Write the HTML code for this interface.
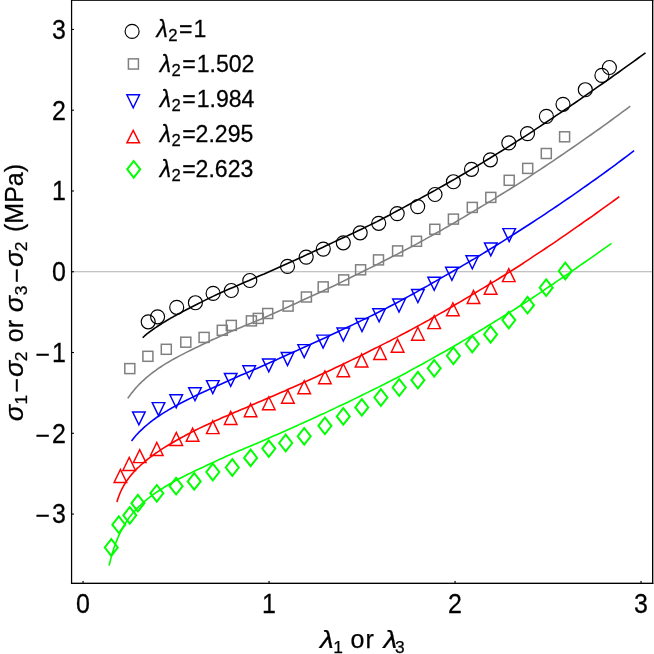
<!DOCTYPE html>
<html>
<head>
<meta charset="utf-8">
<title>Stress vs stretch</title>
<style>
html,body{margin:0;padding:0;background:#fff;}
body{width:654px;height:654px;overflow:hidden;font-family:"Liberation Sans",sans-serif;}
svg{display:block;will-change:transform;}
text{font-family:"Liberation Sans",sans-serif;fill:#000;stroke:#000;stroke-width:0.25px;}
.it{font-style:italic;}
.tk{font-size:25.0px;}
.lg{font-size:23.1px;}
.lg .sub{font-size:16.7px;}
.ax{font-size:25.0px;}
.ax .sub{font-size:17.4px;}
</style>
</head>
<body>
<svg width="654" height="654" viewBox="0 0 654 654">
<rect x="0" y="0" width="654" height="654" fill="#fff"/>
<rect x="72" y="271.2" width="580.5" height="1.05" fill="#b4b4b4"/>
<g fill="none" stroke-width="1.6" stroke-linejoin="round">
<path d="M142.7 337.8 L143.2 337.3 L144.0 336.5 L144.8 335.7 L145.6 335.1 L146.4 334.3 L147.2 333.7 L148.0 333.1 L148.8 332.5 L149.6 331.9 L150.4 331.3 L151.2 330.7 L152.0 330.2 L152.8 329.5 L153.6 329.0 L154.4 328.4 L155.2 327.9 L156.0 327.4 L156.8 326.8 L157.6 326.3 L158.4 325.8 L159.2 325.2 L160.0 324.7 L160.8 324.2 L161.6 323.7 L162.4 323.1 L163.2 322.7 L164.0 322.1 L164.8 321.7 L165.6 321.2 L166.4 320.8 L167.2 320.2 L168.0 319.8 L168.8 319.3 L169.6 318.9 L170.4 318.3 L171.2 317.9 L172.0 317.5 L172.8 317.1 L173.6 316.5 L174.4 316.1 L175.2 315.7 L176.0 315.3 L176.8 314.9 L177.6 314.3 L178.4 313.9 L179.2 313.5 L180.0 313.1 L180.8 312.7 L181.6 312.2 L182.4 311.8 L186.3 309.8 L190.2 307.7 L194.1 305.7 L198.0 303.8 L201.9 301.9 L205.7 299.9 L209.6 298.0 L213.5 296.1 L217.4 294.3 L221.3 292.6 L225.2 290.8 L229.1 289.1 L233.0 287.4 L236.9 285.7 L240.8 284.1 L244.7 282.3 L248.6 280.7 L252.4 279.0 L256.3 277.3 L260.2 275.6 L264.1 274.0 L268.0 272.2 L271.9 270.5 L275.8 268.8 L279.7 267.0 L283.6 265.3 L287.5 263.5 L291.4 261.7 L295.3 260.0 L299.1 258.2 L303.0 256.5 L306.9 254.6 L310.8 252.9 L314.7 251.0 L318.6 249.2 L322.5 247.4 L326.4 245.6 L330.3 243.8 L334.2 241.9 L338.1 240.1 L342.0 238.3 L345.8 236.6 L349.7 234.7 L353.6 232.9 L357.5 231.1 L361.4 229.2 L365.3 227.3 L369.2 225.4 L373.1 223.5 L377.0 221.6 L380.9 219.5 L384.8 217.5 L388.7 215.5 L392.5 213.4 L396.4 211.3 L400.3 209.3 L404.2 207.1 L408.1 205.0 L412.0 202.9 L415.9 200.7 L419.8 198.6 L423.7 196.5 L427.6 194.4 L431.5 192.2 L435.4 190.1 L439.2 187.9 L443.1 185.7 L447.0 183.5 L450.9 181.3 L454.8 179.1 L458.7 176.8 L462.6 174.5 L466.5 172.2 L470.4 169.9 L474.3 167.5 L478.2 165.2 L482.1 162.9 L485.9 160.5 L489.8 158.2 L493.7 155.8 L497.6 153.4 L501.5 151.0 L505.4 148.6 L509.3 146.1 L513.2 143.7 L517.1 141.2 L521.0 138.8 L524.9 136.3 L528.8 133.8 L532.6 131.3 L536.5 128.7 L540.4 126.2 L544.3 123.5 L548.2 120.9 L552.1 118.3 L556.0 115.7 L559.9 113.1 L563.8 110.5 L567.7 107.9 L571.6 105.2 L575.5 102.5 L579.3 99.8 L583.2 97.1 L587.1 94.4 L591.0 91.7 L594.9 88.9 L598.8 86.2 L602.7 83.5 L606.6 80.8 L610.5 78.0 L614.4 75.2 L618.3 72.5 L622.2 69.7 L626.0 66.9 L629.9 64.2 L633.8 61.4 L637.7 58.5 L641.6 55.7 L645.5 52.9" stroke="#000000"/>
<path d="M127.7 398.4 L128.2 397.7 L129.0 396.6 L129.8 395.5 L130.6 394.4 L131.4 393.3 L132.2 392.4 L133.0 391.4 L133.8 390.4 L134.6 389.4 L135.4 388.5 L136.2 387.5 L137.0 386.7 L137.8 385.8 L138.6 385.0 L139.4 384.1 L140.2 383.4 L141.0 382.6 L141.8 381.8 L142.6 381.0 L143.4 380.4 L144.2 379.6 L145.0 378.9 L145.8 378.1 L146.6 377.4 L147.4 376.8 L148.2 376.2 L149.0 375.5 L149.8 374.8 L150.6 374.2 L151.4 373.6 L152.2 372.9 L153.0 372.3 L153.8 371.8 L154.6 371.2 L155.4 370.6 L156.2 370.1 L157.0 369.4 L157.8 368.8 L158.6 368.3 L159.4 367.7 L160.2 367.2 L161.0 366.7 L161.8 366.2 L162.6 365.6 L163.4 365.1 L164.2 364.6 L165.0 364.1 L165.8 363.6 L166.6 363.1 L167.4 362.7 L171.3 360.4 L175.2 358.2 L179.1 356.1 L183.0 354.1 L186.8 352.1 L190.7 350.2 L194.6 348.2 L198.5 346.4 L202.4 344.5 L206.3 342.7 L210.2 340.8 L214.1 339.1 L218.0 337.2 L221.9 335.5 L225.7 333.8 L229.6 332.1 L233.5 330.4 L237.4 328.8 L241.3 327.2 L245.2 325.6 L249.1 324.0 L253.0 322.4 L256.9 320.8 L260.8 319.2 L264.6 317.4 L268.5 315.8 L272.4 314.0 L276.3 312.2 L280.2 310.5 L284.1 308.7 L288.0 306.9 L291.9 305.1 L295.8 303.4 L299.7 301.6 L303.5 299.8 L307.4 298.0 L311.3 296.3 L315.2 294.5 L319.1 292.7 L323.0 290.9 L326.9 289.1 L330.8 287.2 L334.7 285.4 L338.6 283.5 L342.4 281.6 L346.3 279.7 L350.2 277.7 L354.1 275.8 L358.0 273.9 L361.9 272.0 L365.8 270.0 L369.7 268.1 L373.6 266.2 L377.5 264.2 L381.3 262.2 L385.2 260.3 L389.1 258.3 L393.0 256.3 L396.9 254.4 L400.8 252.3 L404.7 250.2 L408.6 248.2 L412.5 246.2 L416.4 244.1 L420.2 242.0 L424.1 239.9 L428.0 237.6 L431.9 235.5 L435.8 233.3 L439.7 231.2 L443.6 228.9 L447.5 226.7 L451.4 224.4 L455.3 222.2 L459.1 219.8 L463.0 217.6 L466.9 215.3 L470.8 212.9 L474.7 210.6 L478.6 208.3 L482.5 205.9 L486.4 203.6 L490.3 201.3 L494.2 198.8 L498.0 196.4 L501.9 194.0 L505.8 191.6 L509.7 189.2 L513.6 186.8 L517.5 184.4 L521.4 181.8 L525.3 179.3 L529.2 176.8 L533.1 174.2 L536.9 171.7 L540.8 169.1 L544.7 166.5 L548.6 163.9 L552.5 161.3 L556.4 158.6 L560.3 156.0 L564.2 153.4 L568.1 150.6 L572.0 148.0 L575.8 145.3 L579.7 142.6 L583.6 139.9 L587.5 137.2 L591.4 134.5 L595.3 131.7 L599.2 129.0 L603.1 126.2 L607.0 123.4 L610.9 120.5 L614.7 117.6 L618.6 114.8 L622.5 111.9 L626.4 109.1 L630.3 106.2" stroke="#808080"/>
<path d="M131.6 441.0 L132.1 440.3 L132.9 439.2 L133.7 438.2 L134.5 437.2 L135.3 436.3 L136.1 435.3 L136.9 434.5 L137.7 433.6 L138.5 432.8 L139.3 431.9 L140.1 431.2 L140.9 430.4 L141.7 429.6 L142.5 428.9 L143.3 428.1 L144.1 427.4 L144.9 426.7 L145.7 426.0 L146.5 425.3 L147.3 424.7 L148.1 424.0 L148.9 423.3 L149.7 422.7 L150.5 422.0 L151.3 421.4 L152.1 420.8 L152.9 420.2 L153.7 419.6 L154.5 419.0 L155.3 418.5 L156.1 417.8 L156.9 417.3 L157.7 416.7 L158.5 416.2 L159.3 415.7 L160.1 415.2 L160.9 414.6 L161.7 414.1 L162.5 413.6 L163.3 413.1 L164.1 412.6 L164.9 412.1 L165.7 411.6 L166.5 411.1 L167.3 410.7 L168.1 410.1 L168.9 409.6 L169.7 409.2 L170.5 408.7 L171.3 408.3 L175.2 406.1 L179.1 404.0 L183.0 402.0 L186.9 400.0 L190.7 398.1 L194.6 396.2 L198.5 394.3 L202.4 392.6 L206.3 390.8 L210.2 388.9 L214.1 387.2 L218.0 385.4 L221.9 383.7 L225.7 382.0 L229.6 380.3 L233.5 378.5 L237.4 376.8 L241.3 375.1 L245.2 373.4 L249.1 371.8 L253.0 370.1 L256.9 368.4 L260.7 366.7 L264.6 365.0 L268.5 363.3 L272.4 361.6 L276.3 359.9 L280.2 358.0 L284.1 356.3 L288.0 354.6 L291.9 352.8 L295.8 351.1 L299.6 349.3 L303.5 347.5 L307.4 345.8 L311.3 344.0 L315.2 342.3 L319.1 340.5 L323.0 338.7 L326.9 336.9 L330.8 335.1 L334.6 333.3 L338.5 331.5 L342.4 329.6 L346.3 327.8 L350.2 326.0 L354.1 324.1 L358.0 322.3 L361.9 320.4 L365.8 318.6 L369.6 316.6 L373.5 314.7 L377.4 312.8 L381.3 310.8 L385.2 308.9 L389.1 306.8 L393.0 304.7 L396.9 302.7 L400.8 300.6 L404.6 298.5 L408.5 296.4 L412.4 294.2 L416.3 292.1 L420.2 289.8 L424.1 287.7 L428.0 285.6 L431.9 283.3 L435.8 281.1 L439.6 278.9 L443.5 276.6 L447.4 274.4 L451.3 272.2 L455.2 269.9 L459.1 267.7 L463.0 265.4 L466.9 263.1 L470.8 260.8 L474.6 258.6 L478.5 256.2 L482.4 253.9 L486.3 251.5 L490.2 249.0 L494.1 246.7 L498.0 244.3 L501.9 241.8 L505.8 239.4 L509.6 237.0 L513.5 234.5 L517.4 232.0 L521.3 229.5 L525.2 227.0 L529.1 224.5 L533.0 222.0 L536.9 219.4 L540.8 216.9 L544.7 214.3 L548.5 211.7 L552.4 209.1 L556.3 206.5 L560.2 203.8 L564.1 201.2 L568.0 198.5 L571.9 195.8 L575.8 193.2 L579.7 190.4 L583.5 187.7 L587.4 185.0 L591.3 182.2 L595.2 179.5 L599.1 176.7 L603.0 173.8 L606.9 171.0 L610.8 168.2 L614.7 165.3 L618.5 162.4 L622.4 159.5 L626.3 156.6 L630.2 153.7 L634.1 150.7" stroke="#0000ff"/>
<path d="M116.9 502.0 L117.2 501.0 L118.0 498.4 L118.8 496.2 L119.6 494.2 L120.4 492.2 L121.2 490.5 L122.0 488.8 L122.8 487.3 L123.6 485.8 L124.4 484.5 L125.2 483.2 L126.0 482.0 L126.8 480.8 L127.6 479.7 L128.4 478.5 L129.2 477.5 L130.0 476.5 L130.8 475.5 L131.6 474.5 L132.4 473.6 L133.2 472.7 L134.0 471.8 L134.8 471.0 L135.6 470.1 L136.4 469.3 L137.2 468.4 L138.0 467.7 L138.8 467.0 L139.6 466.2 L140.4 465.5 L141.2 464.7 L142.0 464.0 L142.8 463.3 L143.6 462.6 L144.4 461.9 L145.2 461.3 L146.0 460.6 L146.8 460.0 L147.6 459.4 L148.4 458.7 L149.2 458.1 L150.0 457.4 L150.8 456.8 L151.6 456.3 L152.4 455.6 L153.2 455.1 L154.0 454.5 L154.8 454.0 L155.6 453.3 L156.4 452.8 L160.3 450.2 L164.2 447.7 L168.1 445.3 L172.0 443.0 L175.8 440.7 L179.7 438.5 L183.6 436.5 L187.5 434.3 L191.4 432.4 L195.3 430.3 L199.2 428.4 L203.1 426.6 L207.0 424.7 L210.9 422.9 L214.7 421.1 L218.6 419.4 L222.5 417.6 L226.4 416.0 L230.3 414.4 L234.2 412.6 L238.1 411.0 L242.0 409.3 L245.9 407.7 L249.8 406.0 L253.6 404.3 L257.5 402.6 L261.4 400.9 L265.3 399.2 L269.2 397.5 L273.1 395.9 L277.0 394.2 L280.9 392.5 L284.8 390.9 L288.7 389.1 L292.5 387.4 L296.4 385.7 L300.3 383.9 L304.2 382.2 L308.1 380.5 L312.0 378.7 L315.9 376.9 L319.8 375.1 L323.7 373.3 L327.6 371.5 L331.4 369.7 L335.3 367.8 L339.2 366.0 L343.1 364.1 L347.0 362.3 L350.9 360.4 L354.8 358.5 L358.7 356.6 L362.6 354.7 L366.5 352.7 L370.3 350.8 L374.2 348.8 L378.1 346.9 L382.0 344.9 L385.9 342.9 L389.8 341.0 L393.7 338.9 L397.6 336.9 L401.5 334.8 L405.4 332.8 L409.2 330.7 L413.1 328.6 L417.0 326.5 L420.9 324.4 L424.8 322.2 L428.7 320.1 L432.6 317.8 L436.5 315.6 L440.4 313.4 L444.3 311.2 L448.1 308.9 L452.0 306.7 L455.9 304.3 L459.8 302.1 L463.7 299.8 L467.6 297.4 L471.5 295.1 L475.4 292.8 L479.3 290.4 L483.2 288.1 L487.0 285.8 L490.9 283.4 L494.8 281.1 L498.7 278.7 L502.6 276.3 L506.5 273.9 L510.4 271.4 L514.3 269.0 L518.2 266.5 L522.1 264.0 L525.9 261.4 L529.8 258.9 L533.7 256.2 L537.6 253.7 L541.5 251.1 L545.4 248.5 L549.3 245.9 L553.2 243.3 L557.1 240.7 L561.0 237.9 L564.8 235.3 L568.7 232.6 L572.6 229.9 L576.5 227.2 L580.4 224.5 L584.3 221.7 L588.2 219.0 L592.1 216.3 L596.0 213.5 L599.9 210.6 L603.7 207.9 L607.6 205.1 L611.5 202.3 L615.4 199.5 L619.3 196.6" stroke="#ff0000"/>
<path d="M109.1 565.6 L109.9 562.2 L110.7 559.1 L111.5 556.1 L112.3 553.3 L113.1 550.7 L113.9 548.2 L114.7 545.9 L115.5 543.7 L116.3 541.6 L117.1 539.6 L117.9 537.7 L118.7 535.9 L119.5 534.1 L120.3 532.5 L121.1 530.9 L121.9 529.4 L122.7 527.9 L123.5 526.4 L124.3 525.1 L125.1 523.8 L125.9 522.5 L126.7 521.3 L127.5 520.1 L128.3 518.9 L129.1 517.8 L129.9 516.8 L130.7 515.7 L131.5 514.7 L132.3 513.7 L133.1 512.8 L133.9 511.9 L134.7 511.0 L135.5 510.1 L136.3 509.3 L137.1 508.4 L137.9 507.6 L138.7 506.8 L139.5 506.0 L140.3 505.3 L141.1 504.5 L141.9 503.7 L142.7 503.0 L143.5 502.3 L144.3 501.6 L145.1 501.0 L145.9 500.3 L146.7 499.6 L147.5 498.9 L148.3 498.3 L149.1 497.7 L153.0 494.7 L156.9 492.0 L160.8 489.5 L164.6 487.0 L168.5 484.7 L172.4 482.4 L176.3 480.3 L180.2 478.3 L184.1 476.2 L188.0 474.3 L191.8 472.4 L195.7 470.5 L199.6 468.7 L203.5 466.9 L207.4 465.1 L211.3 463.2 L215.2 461.4 L219.0 459.6 L222.9 457.9 L226.8 456.1 L230.7 454.4 L234.6 452.7 L238.5 451.1 L242.4 449.4 L246.2 447.8 L250.1 446.2 L254.0 444.5 L257.9 442.9 L261.8 441.3 L265.7 439.5 L269.6 437.8 L273.4 436.1 L277.3 434.4 L281.2 432.7 L285.1 430.9 L289.0 429.2 L292.9 427.5 L296.8 425.7 L300.6 423.9 L304.5 422.2 L308.4 420.5 L312.3 418.7 L316.2 416.9 L320.1 415.1 L324.0 413.4 L327.8 411.6 L331.7 409.8 L335.6 407.9 L339.5 406.1 L343.4 404.2 L347.3 402.4 L351.2 400.5 L355.0 398.6 L358.9 396.7 L362.8 394.8 L366.7 392.9 L370.6 391.0 L374.5 389.0 L378.4 387.1 L382.2 385.2 L386.1 383.2 L390.0 381.2 L393.9 379.2 L397.8 377.2 L401.7 375.2 L405.6 373.2 L409.4 371.0 L413.3 368.9 L417.2 366.8 L421.1 364.7 L425.0 362.5 L428.9 360.4 L432.8 358.1 L436.6 356.0 L440.5 353.8 L444.4 351.7 L448.3 349.5 L452.2 347.2 L456.1 345.0 L460.0 342.7 L463.8 340.4 L467.7 338.1 L471.6 335.8 L475.5 333.4 L479.4 331.0 L483.3 328.7 L487.2 326.3 L491.0 323.9 L494.9 321.5 L498.8 319.1 L502.7 316.7 L506.6 314.3 L510.5 311.9 L514.4 309.5 L518.2 307.0 L522.1 304.5 L526.0 302.1 L529.9 299.6 L533.8 297.0 L537.7 294.4 L541.6 291.8 L545.4 289.2 L549.3 286.5 L553.2 284.0 L557.1 281.2 L561.0 278.6 L564.9 276.0 L568.8 273.3 L572.6 270.6 L576.5 268.0 L580.4 265.2 L584.3 262.5 L588.2 259.9 L592.1 257.1 L596.0 254.4 L599.8 251.7 L603.7 248.9 L607.6 246.1 L611.5 243.3" stroke="#00ff00"/>
</g>
<g fill="none" stroke-linejoin="miter">
<g stroke="#000000" stroke-width="1.15">
<circle cx="148.2" cy="321.8" r="7.0"/>
<circle cx="157.6" cy="316.8" r="7.0"/>
<circle cx="176.7" cy="307.3" r="7.0"/>
<circle cx="195.4" cy="302.7" r="7.0"/>
<circle cx="213.1" cy="293.4" r="7.0"/>
<circle cx="231.3" cy="290.5" r="7.0"/>
<circle cx="249.8" cy="280.5" r="7.0"/>
<circle cx="287.5" cy="266.4" r="7.0"/>
<circle cx="306.2" cy="257.1" r="7.0"/>
<circle cx="323.3" cy="249.1" r="7.0"/>
<circle cx="343.3" cy="242.8" r="7.0"/>
<circle cx="360.2" cy="232.8" r="7.0"/>
<circle cx="378.7" cy="223.3" r="7.0"/>
<circle cx="397.2" cy="213.6" r="7.0"/>
<circle cx="417.7" cy="206.6" r="7.0"/>
<circle cx="435.0" cy="194.5" r="7.0"/>
<circle cx="453.4" cy="181.7" r="7.0"/>
<circle cx="471.5" cy="169.3" r="7.0"/>
<circle cx="490.4" cy="159.8" r="7.0"/>
<circle cx="508.8" cy="142.9" r="7.0"/>
<circle cx="527.5" cy="133.6" r="7.0"/>
<circle cx="546.4" cy="116.4" r="7.0"/>
<circle cx="563.0" cy="104.3" r="7.0"/>
<circle cx="585.3" cy="89.7" r="7.0"/>
<circle cx="601.9" cy="75.4" r="7.0"/>
<circle cx="609.4" cy="67.5" r="7.0"/>
</g>
<g stroke="#808080" stroke-width="1.5">
<rect x="124.8" y="363.6" width="10.0" height="10.0"/>
<rect x="142.9" y="351.3" width="10.0" height="10.0"/>
<rect x="161.3" y="344.3" width="10.0" height="10.0"/>
<rect x="180.8" y="337.2" width="10.0" height="10.0"/>
<rect x="199.1" y="332.4" width="10.0" height="10.0"/>
<rect x="217.3" y="325.3" width="10.0" height="10.0"/>
<rect x="226.3" y="320.4" width="10.0" height="10.0"/>
<rect x="246.4" y="315.9" width="10.0" height="10.0"/>
<rect x="253.3" y="313.4" width="10.0" height="10.0"/>
<rect x="262.7" y="308.5" width="10.0" height="10.0"/>
<rect x="283.1" y="301.1" width="10.0" height="10.0"/>
<rect x="301.4" y="292.0" width="10.0" height="10.0"/>
<rect x="318.2" y="281.9" width="10.0" height="10.0"/>
<rect x="338.7" y="274.9" width="10.0" height="10.0"/>
<rect x="355.6" y="264.8" width="10.0" height="10.0"/>
<rect x="373.5" y="254.9" width="10.0" height="10.0"/>
<rect x="392.6" y="245.9" width="10.0" height="10.0"/>
<rect x="411.5" y="236.3" width="10.0" height="10.0"/>
<rect x="429.8" y="224.3" width="10.0" height="10.0"/>
<rect x="448.4" y="214.1" width="10.0" height="10.0"/>
<rect x="467.3" y="202.4" width="10.0" height="10.0"/>
<rect x="485.8" y="192.4" width="10.0" height="10.0"/>
<rect x="504.2" y="175.3" width="10.0" height="10.0"/>
<rect x="522.7" y="163.4" width="10.0" height="10.0"/>
<rect x="541.3" y="148.5" width="10.0" height="10.0"/>
<rect x="559.6" y="131.8" width="10.0" height="10.0"/>
</g>
<g stroke="#0000ff" stroke-width="1.45">
<path d="M132.6 411.9L145.2 411.9L138.9 424.9Z"/>
<path d="M152.2 402.6L164.8 402.6L158.5 415.6Z"/>
<path d="M169.9 394.8L182.5 394.8L176.2 407.8Z"/>
<path d="M188.7 387.7L201.3 387.7L195.0 400.7Z"/>
<path d="M206.5 380.6L219.1 380.6L212.8 393.6Z"/>
<path d="M224.4 373.4L237.0 373.4L230.7 386.4Z"/>
<path d="M242.9 365.7L255.5 365.7L249.2 378.7Z"/>
<path d="M262.5 358.9L275.1 358.9L268.8 371.9Z"/>
<path d="M281.2 352.5L293.8 352.5L287.5 365.5Z"/>
<path d="M297.9 344.6L310.5 344.6L304.2 357.6Z"/>
<path d="M316.8 335.1L329.4 335.1L323.1 348.1Z"/>
<path d="M337.0 328.0L349.6 328.0L343.3 341.0Z"/>
<path d="M355.7 318.5L368.3 318.5L362.0 331.5Z"/>
<path d="M372.8 308.8L385.4 308.8L379.1 321.8Z"/>
<path d="M392.7 299.0L405.3 299.0L399.0 312.0Z"/>
<path d="M411.6 289.5L424.2 289.5L417.9 302.5Z"/>
<path d="M427.9 277.3L440.5 277.3L434.2 290.3Z"/>
<path d="M445.6 267.3L458.2 267.3L451.9 280.3Z"/>
<path d="M466.0 255.8L478.6 255.8L472.3 268.8Z"/>
<path d="M484.5 242.9L497.1 242.9L490.8 255.9Z"/>
<path d="M502.9 228.6L515.5 228.6L509.2 241.6Z"/>
</g>
<g stroke="#ff0000" stroke-width="1.45">
<path d="M114.1 482.4L126.7 482.4L120.4 469.4Z"/>
<path d="M122.9 470.5L135.5 470.5L129.2 457.5Z"/>
<path d="M133.4 462.6L146.0 462.6L139.7 449.6Z"/>
<path d="M150.5 455.4L163.1 455.4L156.8 442.4Z"/>
<path d="M170.0 445.5L182.6 445.5L176.3 432.5Z"/>
<path d="M186.3 441.2L198.9 441.2L192.6 428.2Z"/>
<path d="M206.5 433.6L219.1 433.6L212.8 420.6Z"/>
<path d="M224.4 424.5L237.0 424.5L230.7 411.5Z"/>
<path d="M244.3 416.7L256.9 416.7L250.6 403.7Z"/>
<path d="M262.5 409.8L275.1 409.8L268.8 396.8Z"/>
<path d="M281.6 403.2L294.2 403.2L287.9 390.2Z"/>
<path d="M297.9 393.7L310.5 393.7L304.2 380.7Z"/>
<path d="M318.6 383.8L331.2 383.8L324.9 370.8Z"/>
<path d="M337.0 376.8L349.6 376.8L343.3 363.8Z"/>
<path d="M355.3 366.9L367.9 366.9L361.6 353.9Z"/>
<path d="M373.8 359.5L386.4 359.5L380.1 346.5Z"/>
<path d="M391.3 352.2L403.9 352.2L397.6 339.2Z"/>
<path d="M411.6 340.3L424.2 340.3L417.9 327.3Z"/>
<path d="M427.9 328.6L440.5 328.6L434.2 315.6Z"/>
<path d="M446.6 315.8L459.2 315.8L452.9 302.8Z"/>
<path d="M467.2 303.5L479.8 303.5L473.5 290.5Z"/>
<path d="M484.3 294.2L496.9 294.2L490.6 281.2Z"/>
<path d="M502.5 281.6L515.1 281.6L508.8 268.6Z"/>
</g>
<g stroke="#00ff00" stroke-width="2.0">
<path d="M111.3 539.2L117.8 547.5L111.3 555.8L104.8 547.5Z"/>
<path d="M118.8 516.4L125.3 524.7L118.8 533.0L112.3 524.7Z"/>
<path d="M129.8 507.0L136.3 515.3L129.8 523.6L123.3 515.3Z"/>
<path d="M137.9 494.9L144.4 503.2L137.9 511.5L131.4 503.2Z"/>
<path d="M156.8 485.0L163.3 493.3L156.8 501.6L150.3 493.3Z"/>
<path d="M176.1 477.9L182.6 486.2L176.1 494.5L169.6 486.2Z"/>
<path d="M194.2 473.1L200.7 481.4L194.2 489.7L187.7 481.4Z"/>
<path d="M212.8 463.7L219.3 472.0L212.8 480.3L206.3 472.0Z"/>
<path d="M232.3 459.2L238.8 467.5L232.3 475.8L225.8 467.5Z"/>
<path d="M250.6 449.6L257.1 457.9L250.6 466.2L244.1 457.9Z"/>
<path d="M268.8 440.3L275.3 448.6L268.8 456.9L262.3 448.6Z"/>
<path d="M285.7 434.7L292.2 443.0L285.7 451.3L279.2 443.0Z"/>
<path d="M304.2 428.0L310.7 436.3L304.2 444.6L297.7 436.3Z"/>
<path d="M324.9 417.5L331.4 425.8L324.9 434.1L318.4 425.8Z"/>
<path d="M343.3 408.1L349.8 416.4L343.3 424.7L336.8 416.4Z"/>
<path d="M361.8 399.1L368.3 407.4L361.8 415.7L355.3 407.4Z"/>
<path d="M380.9 389.2L387.4 397.5L380.9 405.8L374.4 397.5Z"/>
<path d="M399.2 379.2L405.7 387.5L399.2 395.8L392.7 387.5Z"/>
<path d="M417.9 371.9L424.4 380.2L417.9 388.5L411.4 380.2Z"/>
<path d="M434.2 360.0L440.7 368.3L434.2 376.6L427.7 368.3Z"/>
<path d="M453.4 347.5L459.9 355.8L453.4 364.1L446.9 355.8Z"/>
<path d="M472.3 335.7L478.8 344.0L472.3 352.3L465.8 344.0Z"/>
<path d="M490.6 326.1L497.1 334.4L490.6 342.7L484.1 334.4Z"/>
<path d="M508.8 311.8L515.3 320.1L508.8 328.4L502.3 320.1Z"/>
<path d="M527.5 296.9L534.0 305.2L527.5 313.5L521.0 305.2Z"/>
<path d="M546.2 279.4L552.7 287.7L546.2 296.0L539.7 287.7Z"/>
<path d="M565.3 262.7L571.8 271.0L565.3 279.3L558.8 271.0Z"/>
</g>
</g>
<g fill="#000">
<rect x="70.95" y="0" width="1.25" height="584"/>
<rect x="652" y="0" width="1.35" height="584"/>
<rect x="70.95" y="0" width="582.4" height="0.85"/>
<rect x="70.95" y="582.65" width="582.4" height="1.35"/>
<rect x="82.45" y="580.95" width="1.2" height="2"/>
<rect x="268.45" y="580.95" width="1.2" height="2"/>
<rect x="454.45" y="580.95" width="1.2" height="2"/>
<rect x="640.43" y="580.95" width="1.2" height="2"/>
<rect x="72" y="28.89" width="1.95" height="1.1"/>
<rect x="72" y="109.66" width="1.95" height="1.1"/>
<rect x="72" y="190.43" width="1.95" height="1.1"/>
<rect x="72" y="271.20" width="1.95" height="1.1"/>
<rect x="72" y="351.97" width="1.95" height="1.1"/>
<rect x="72" y="432.74" width="1.95" height="1.1"/>
<rect x="72" y="513.51" width="1.95" height="1.1"/>
</g>
<g class="tk" text-anchor="middle">
<text transform="translate(83,612.5) scale(1,1.07)">0</text>
<text transform="translate(269,612.5) scale(1,1.07)">1</text>
<text transform="translate(455,612.5) scale(1,1.07)">2</text>
<text transform="translate(641,612.5) scale(1,1.07)">3</text>
</g>
<g class="tk" text-anchor="end">
<text transform="translate(66,38.84) scale(1,1.07)">3</text>
<text transform="translate(66,119.61) scale(1,1.07)">2</text>
<text transform="translate(66,200.38) scale(1,1.07)">1</text>
<text transform="translate(66,281.15) scale(1,1.07)">0</text>
<text x="50.2" y="362.8">−</text>
<text transform="translate(66,361.92) scale(1,1.07)">1</text>
<text x="50.2" y="443.6">−</text>
<text transform="translate(66,442.69) scale(1,1.07)">2</text>
<text x="50.2" y="524.4">−</text>
<text transform="translate(66,523.46) scale(1,1.07)">3</text>
</g>
<g class="ax" transform="translate(0,648.2)">
<text class="it" style="font-size:23.6px;" transform="translate(319.90,0.00) scale(1.18,1)">λ</text>
<text class="sub" x="333.30" y="4.30">1</text>
<text x="350.60" y="0.00">o</text>
<text x="365.40" y="0.00">r</text>
<text class="it" style="font-size:23.6px;" transform="translate(383.60,0.00) scale(1.18,1)">λ</text>
<text class="sub" x="394.90" y="4.30">3</text>
</g>
<g class="ax" transform="translate(22.7,420.6) rotate(-90)">
<text class="it" style="font-size:25.3px;" transform="translate(-0.60,0.00) scale(1.06,1)">σ</text>
<text class="sub" x="16.00" y="4.30">1</text>
<text x="28.00" y="2.00">−</text>
<text class="it" style="font-size:25.3px;" transform="translate(43.70,0.00) scale(1.06,1)">σ</text>
<text class="sub" x="59.45" y="4.30">2</text>
<text x="78.40" y="0.00">or</text>
<text class="it" style="font-size:25.3px;" transform="translate(108.40,0.00) scale(1.06,1)">σ</text>
<text class="sub" x="125.45" y="4.30">3</text>
<text x="137.90" y="2.00">−</text>
<text class="it" style="font-size:25.3px;" transform="translate(153.60,0.00) scale(1.06,1)">σ</text>
<text class="sub" x="169.35" y="4.30">2</text>
<text x="188.60" y="0.00">(MPa)</text>
</g>
<g fill="none" stroke-linejoin="miter">
<circle cx="132.1" cy="31.4" r="7.0" stroke="#000" stroke-width="1.15"/>
<rect x="128.4" y="58.85" width="10" height="10.2" stroke="#808080" stroke-width="1.5"/>
<path d="M126.9 94.8L139.5 94.8L133.2 107.8Z" stroke="#0000ff" stroke-width="1.45"/>
<path d="M126.9 142.8L139.5 142.8L133.2 130.4Z" stroke="#ff0000" stroke-width="1.45"/>
<path d="M133.7 161.0L140.2 169.3L133.7 177.6L127.2 169.3Z" stroke="#00ff00" stroke-width="2.0"/>
</g>
<g class="lg">
<text transform="translate(0,37.0) scale(1,1.04)"><tspan class="it" x="156.5">λ</tspan><tspan class="sub" x="168.2" dy="4.0">2</tspan><tspan x="179.0" dy="-4.0">=</tspan><tspan x="193.5">1</tspan></text>
<text transform="translate(0,71.7) scale(1,1.04)"><tspan class="it" x="159.7">λ</tspan><tspan class="sub" x="171.4" dy="4.0">2</tspan><tspan x="182.2" dy="-4.0">=</tspan><tspan x="196.7">1.502</tspan></text>
<text transform="translate(0,106.7) scale(1,1.04)"><tspan class="it" x="159.7">λ</tspan><tspan class="sub" x="171.4" dy="4.0">2</tspan><tspan x="182.2" dy="-4.0">=</tspan><tspan x="196.7">1.984</tspan></text>
<text transform="translate(0,141.7) scale(1,1.04)"><tspan class="it" x="159.7">λ</tspan><tspan class="sub" x="171.4" dy="4.0">2</tspan><tspan x="182.2" dy="-4.0">=</tspan><tspan x="195.6">2.295</tspan></text>
<text transform="translate(0,176.7) scale(1,1.04)"><tspan class="it" x="159.7">λ</tspan><tspan class="sub" x="171.4" dy="4.0">2</tspan><tspan x="182.2" dy="-4.0">=</tspan><tspan x="195.6">2.623</tspan></text>
</g>
</svg>
</body>
</html>
